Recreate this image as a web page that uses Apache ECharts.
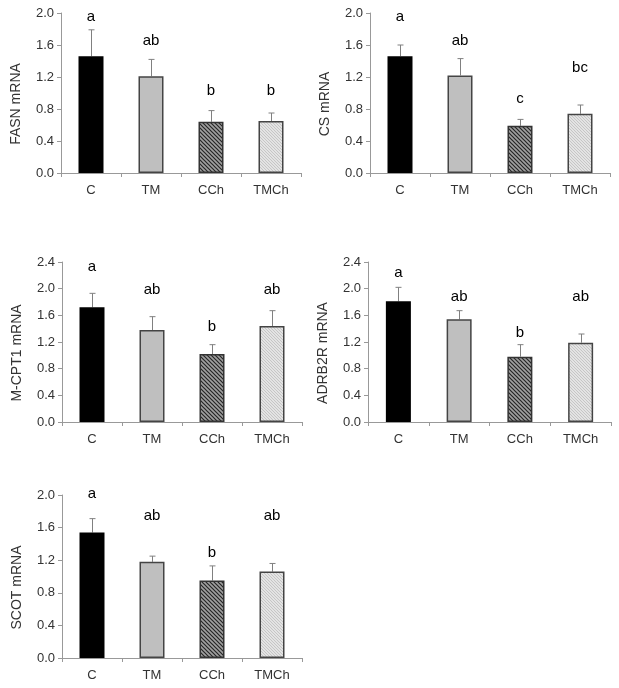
<!DOCTYPE html>
<html>
<head>
<meta charset="utf-8">
<script src="https://cdn.jsdelivr.net/npm/echarts@6/dist/echarts.min.js"></script>
<style>
  html, body { margin: 0; padding: 0; background: #fff; }
  #chart { width: 619px; height: 688px; }
</style>
</head>
<body>
<div id="chart"></div>
<script>
// groups on the x axis
const categories = ['C', 'TM', 'CCh', 'TMCh']

// mean and SE for each gene
const fasnMean = [1.46, 1.21, 0.64, 0.65]
const fasnSE = [0.33, 0.21, 0.14, 0.10]
const csMean = [1.46, 1.22, 0.59, 0.74]
const csSE = [0.14, 0.21, 0.08, 0.11]
const mcpt1Mean = [1.72, 1.38, 1.02, 1.44]
const mcpt1SE = [0.21, 0.20, 0.14, 0.23]
const adrb2rMean = [1.81, 1.54, 0.98, 1.19]
const adrb2rSE = [0.21, 0.13, 0.18, 0.13]
const scotMean = [1.54, 1.18, 0.95, 1.06]
const scotSE = [0.17, 0.07, 0.18, 0.10]

// significance letters and the height they sit at
const fasnLetters = ['a', 'ab', 'b', 'b']
const fasnLetterY = [1.95, 1.65, 1.03, 1.03]
const csLetters = ['a', 'ab', 'c', 'bc']
const csLetterY = [1.95, 1.65, 0.93, 1.31]
const mcpt1Letters = ['a', 'ab', 'b', 'ab']
const mcpt1LetterY = [2.33, 1.98, 1.42, 1.98]
const adrb2rLetters = ['a', 'ab', 'b', 'ab']
const adrb2rLetterY = [2.23, 1.88, 1.33, 1.88]
const scotLetters = ['a', 'ab', 'b', 'ab']
const scotLetterY = [2.02, 1.75, 1.29, 1.75]

// y axis ranges
const yMax20 = 2.0
const yMax24 = 2.4
const yStep = 0.4

const FONT = 'Liberation Sans, Arial, sans-serif'

function hatch (bg, fg, size) {
  const c = document.createElement('canvas')
  c.width = size
  c.height = size
  const ctx = c.getContext('2d')
  ctx.fillStyle = bg
  ctx.fillRect(0, 0, size, size)
  ctx.strokeStyle = fg
  ctx.lineWidth = 1.2
  ctx.beginPath()
  ctx.moveTo(-1, -1); ctx.lineTo(size + 1, size + 1)
  ctx.moveTo(-1, size - 1); ctx.lineTo(1, size + 1)
  ctx.moveTo(size - 1, -1); ctx.lineTo(size + 1, 1)
  ctx.stroke()
  return c
}

const barFill = [
  '#000000',
  '#bfbfbf',
  { image: hatch('#a0a0a0', '#262626', 4), repeat: 'repeat' },
  { image: hatch('#f2f2f2', '#c4c4c4', 3), repeat: 'repeat' }
]
const barBorder = ['#000000', '#444444', '#333333', '#444444']

const panels = [
  { name: 'FASN mRNA', mean: fasnMean, se: fasnSE, letters: fasnLetters, ly: fasnLetterY, max: yMax20,
    grid: { left: 61, top: 13, width: 240, height: 160 } },
  { name: 'CS mRNA', mean: csMean, se: csSE, letters: csLetters, ly: csLetterY, max: yMax20,
    grid: { left: 370, top: 13, width: 240, height: 160 } },
  { name: 'M-CPT1 mRNA', mean: mcpt1Mean, se: mcpt1SE, letters: mcpt1Letters, ly: mcpt1LetterY, max: yMax24,
    grid: { left: 62, top: 262, width: 240, height: 160 } },
  { name: 'ADRB2R mRNA', mean: adrb2rMean, se: adrb2rSE, letters: adrb2rLetters, ly: adrb2rLetterY, max: yMax24,
    grid: { left: 368, top: 262, width: 243, height: 160 } },
  { name: 'SCOT mRNA', mean: scotMean, se: scotSE, letters: scotLetters, ly: scotLetterY, max: yMax20,
    grid: { left: 62, top: 495, width: 240, height: 163 } }
]

const grid = []
const xAxis = []
const yAxis = []
const series = []

panels.forEach((p, i) => {
  grid.push(p.grid)
  xAxis.push({
    type: 'category',
    gridIndex: i,
    data: categories,
    axisLine: { lineStyle: { color: '#999', width: 1 } },
    axisTick: { show: true, length: 4, lineStyle: { color: '#999' } },
    axisLabel: { color: '#333', fontSize: 13, fontFamily: FONT, margin: 11 }
  })
  yAxis.push({
    type: 'value',
    gridIndex: i,
    min: 0,
    max: p.max,
    interval: yStep,
    name: p.name,
    nameLocation: 'middle',
    nameRotate: 90,
    nameGap: 38,
    nameTextStyle: { color: '#333', fontSize: 14, fontFamily: FONT, padding: [0, 22, 0, 0] },
    axisLine: { show: true, lineStyle: { color: '#999', width: 1 } },
    axisTick: { show: true, length: 4, lineStyle: { color: '#999' } },
    splitLine: { show: false },
    axisLabel: { color: '#333', fontSize: 13, fontFamily: FONT, margin: 7, formatter: v => v.toFixed(1) }
  })
  series.push({
    type: 'bar',
    xAxisIndex: i,
    yAxisIndex: i,
    barWidth: 25,
    data: p.mean.map((v, k) => ({
      value: v,
      itemStyle: { color: barFill[k], borderColor: barBorder[k], borderWidth: 1.5 }
    })),
    z: 2
  })
  // error bars, upper side only
  series.push({
    type: 'custom',
    xAxisIndex: i,
    yAxisIndex: i,
    data: p.mean.map((v, k) => [k, v, v + p.se[k]]),
    renderItem: (params, api) => {
      const base = api.coord([api.value(0), api.value(1)])
      const top = api.coord([api.value(0), api.value(2)])
      const x = Math.round(base[0]) + 0.5
      return {
        type: 'group',
        children: [
          { type: 'line', shape: { x1: x, y1: base[1], x2: x, y2: top[1] }, style: { stroke: '#808080', lineWidth: 1 } },
          { type: 'line', shape: { x1: x - 3, y1: top[1], x2: x + 3, y2: top[1] }, style: { stroke: '#808080', lineWidth: 1 } }
        ]
      }
    },
    z: 1
  })
  // letters
  series.push({
    type: 'custom',
    xAxisIndex: i,
    yAxisIndex: i,
    clip: false,
    data: p.ly.map((v, k) => [k, v]),
    renderItem: (params, api) => {
      const pt = api.coord([api.value(0), api.value(1)])
      return {
        type: 'text',
        x: pt[0],
        y: pt[1],
        style: {
          text: p.letters[params.dataIndex],
          fill: '#000',
          font: '15px ' + FONT,
          align: 'center',
          verticalAlign: 'middle'
        }
      }
    },
    z: 3
  })
})

const chart = echarts.init(document.getElementById('chart'))
chart.setOption({
  animation: false,
  backgroundColor: '#fff',
  grid,
  xAxis,
  yAxis,
  series
})
</script>
</body>
</html>
